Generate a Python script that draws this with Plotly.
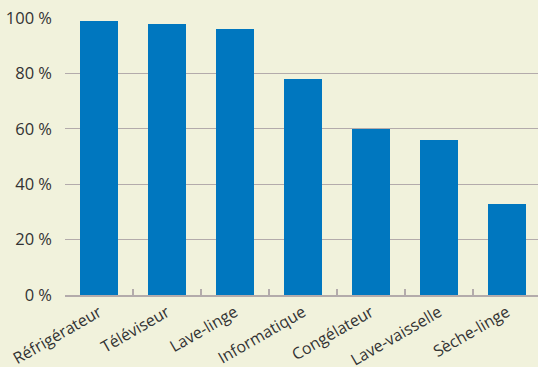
import plotly.graph_objects as go

categories = ["Réfrigérateur", "Téléviseur", "Lave-linge", "Informatique",
              "Congélateur", "Lave-vaisselle", "Sèche-linge"]
values = [99, 98, 96, 78, 60, 56, 33]
y_ticks = [0, 20, 40, 60, 80, 100]
y_labels = ["0 %", "20 %", "40 %", "60 %", "80 %", "100 %"]

BG = "#f1f2dc"
GRID = "#b3abab"
TEXT = "#333333"

fig = go.Figure(go.Bar(
    x=categories, y=values,
    marker=dict(color="#0077bf", line=dict(width=0)),
    width=0.57,
))

fig.update_layout(
    width=538, height=367,
    margin=dict(l=65, r=0, t=18, b=72),
    paper_bgcolor=BG, plot_bgcolor=BG,
    font=dict(family="Open Sans", size=16, color=TEXT),
    showlegend=False,
    xaxis=dict(
        range=[-0.5, 6.456],
        tickangle=-30,
        automargin=False,
        showgrid=False,
        showline=True, linecolor=GRID, linewidth=2,
        ticks="inside", tickson="boundaries", ticklen=6, tickcolor=GRID, tickwidth=1.5,
        tickfont=dict(size=16, color=TEXT),
    ),
    yaxis=dict(
        range=[0, 100],
        automargin=False,
        tickvals=y_ticks, ticktext=y_labels,
        showgrid=True, gridcolor=GRID, gridwidth=1.3,
        zeroline=False,
        showline=False,
        ticks="", ticklabelstandoff=12,
        tickfont=dict(size=16.5, color=TEXT),
    ),
    bargap=0,
)

fig.write_html("out.html")
